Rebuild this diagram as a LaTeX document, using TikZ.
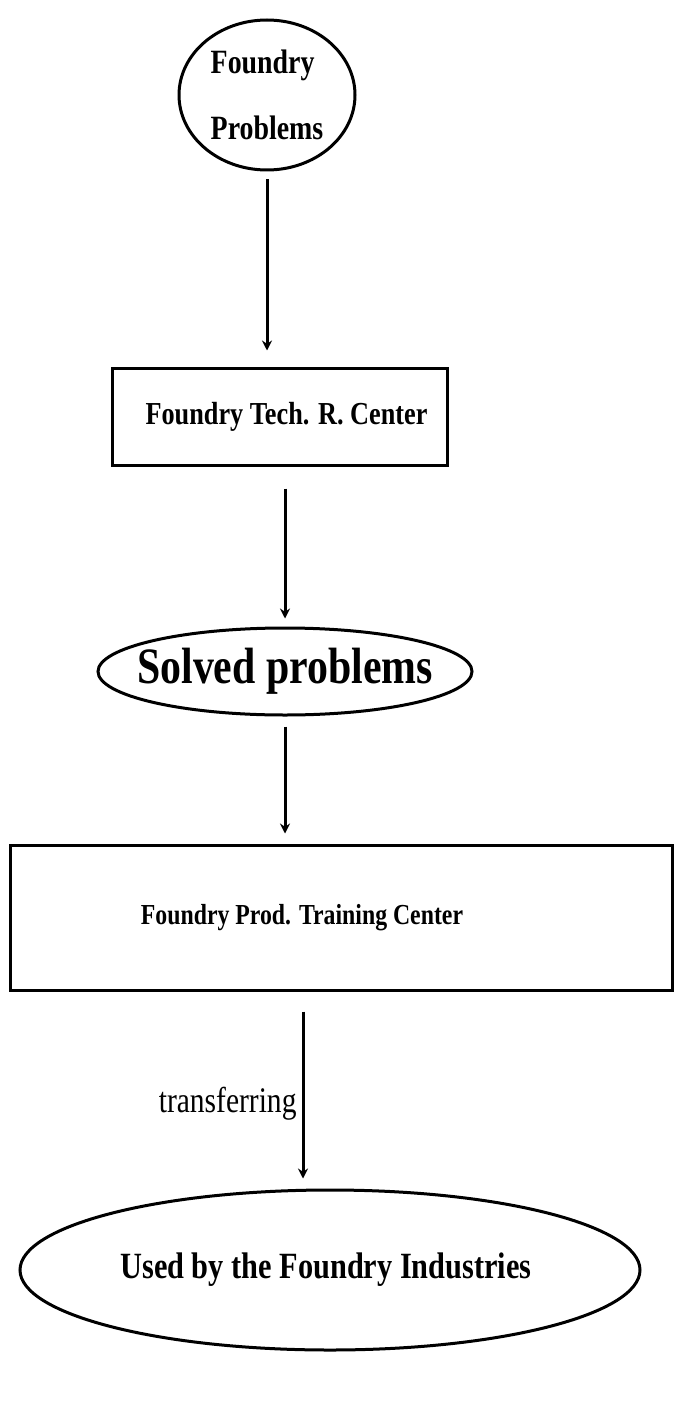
\documentclass[tikz,border=0pt]{standalone}
\usepackage{fontspec}
\setmainfont{Liberation Serif}[FakeStretch=0.82]
\usetikzlibrary{shapes.geometric,arrows.meta}

\begin{document}
\begin{tikzpicture}[
        x=1pt, y=-1pt,
        oval/.style={draw, ellipse, line width=3pt, inner sep=0pt, font=\bfseries},
        box/.style={draw, rectangle, line width=3pt, inner sep=0pt, font=\bfseries},
        arr/.style={line width=3pt, -{Stealth[length=10pt, width=10pt]}}
      ]
      \useasboundingbox (0,0) rectangle (681,1415);
      % steps of the chain
      \node[oval, minimum width=176pt, minimum height=150pt, align=left, inner sep=-12pt,
            font=\bfseries\fontsize{34}{40}\selectfont] (prob) at (267,95)
            {Foundry\\[26pt]Problems};
      \node[box, minimum width=335pt, minimum height=97pt,
            font=\bfseries\fontsize{32}{38}\selectfont] (tech) at (279.5,416.5)
            {\hspace*{14pt}Foundry Tech. R. Center};
      \node[oval, minimum width=374pt, minimum height=87pt, inner xsep=-50pt,
            font=\bfseries\fontsize{51}{58}\selectfont] (solved) at (285,671.5)
            {Solved problems};
      \node[box, minimum width=662pt, minimum height=145pt,
            font=\bfseries\fontsize{29}{34}\selectfont] (prod) at (341,917.5)
            {Foundry Prod. Training Center\hspace*{78pt}};
      \node[oval, minimum width=620pt, minimum height=160pt,
            font=\bfseries\fontsize{37}{43}\selectfont] (used) at (330,1270)
            {\hspace*{-8pt}Used by the Foundry Industries};
      % arrows
      \draw[arr] ([yshift=-8pt]prob.south) -- ([yshift=16pt]prob.south |- tech.north);
      \draw[arr] ([yshift=-22pt]tech.south -| solved.north) -- ([yshift=8pt]solved.north);
      \draw[arr] ([yshift=-10pt]solved.south) -- ([yshift=10pt]solved.south |- prod.north);
      \draw[arr] ([xshift=-38pt,yshift=-20pt]prod.south)
        -- node[left, pos=0.55, inner sep=5pt, font=\fontsize{36}{42}\selectfont] (trans) {transferring}
        ([xshift=-38pt,yshift=10pt]prod.south |- used.north);
\end{tikzpicture}
\end{document}
